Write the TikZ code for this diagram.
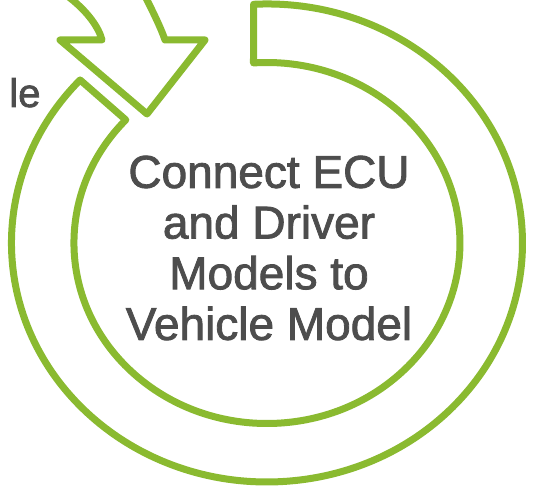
\documentclass[tikz,border=0pt]{standalone}
\usepackage{fontspec}
\setmainfont{Liberation Sans}
\newfontfamily\labelfont{Liberation Sans}[FakeBold=1.8]

\definecolor{ringgreen}{RGB}{138,186,48}
\definecolor{labelgray}{RGB}{77,77,77}

\tikzset{every picture/.style={line width=0.75pt}}
\tikzset{ringline/.style={draw=ringgreen, fill=white, line width=5.25pt, line join=round}}

\begin{document}
\begin{tikzpicture}[x=0.75pt,y=0.75pt,yscale=-1,xscale=1]
        %set diagram to 538 x 491
        \useasboundingbox (0,0) rectangle (538,491);
        \clip (0,0) rectangle (538,491);

        %Shape: Circular Arrow [ring]
        \draw [ringline] (253.6,4.3) arc [start angle=-93, end angle=223, x radius=255.5, y radius=239] -- (125.8,119.9) arc [start angle=223, end angle=-94, x radius=193, y radius=180.5] -- cycle ;
        %Shape: Arrow head coming in [prev]
        \draw [ringline] (50,-18) -- (70,-2) .. controls (88,12) and (99,28) .. (102,40) -- (60,40) -- (147,114) -- (205,40) -- (165,40) .. controls (161,28) and (152,10) .. (147,0) -- (137,-20) -- cycle ;

        \draw (269,248) node [inner sep=0pt] [font=\labelfont\fontsize{34.5}{38}\selectfont, text=labelgray, align=center] (goal) {Connect ECU\\and Driver\\Models to\\Vehicle Model};
        \draw (41,107) node [anchor=base east][inner sep=0pt] [font=\labelfont\fontsize{30}{36}\selectfont, text=labelgray] (prevlabel) {le};

\end{tikzpicture}
\end{document}
